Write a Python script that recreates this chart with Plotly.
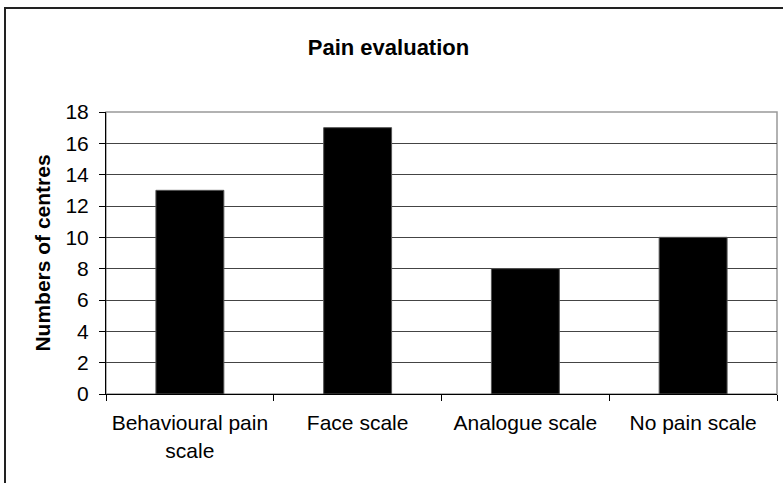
import plotly.graph_objects as go

categories = ["Behavioural pain<br>scale", "Face scale", "Analogue scale", "No pain scale"]
values = [13, 17, 8, 10]
y_ticks = [0, 2, 4, 6, 8, 10, 12, 14, 16, 18]

L, R, T, B = 106, 6, 112, 89
W, H = 783, 483
pw, ph = W - L - R, H - T - B

fig = go.Figure(go.Bar(x=categories, y=values, marker=dict(color="black", line=dict(color="#555", width=1)), width=0.405))

def px_x(p):
    return (p - L) / pw

def px_y(p):
    return (H - B - p) / ph

fig.update_layout(
    width=W, height=H,
    margin=dict(l=L, r=R, t=T, b=B, autoexpand=False),
    paper_bgcolor="white", plot_bgcolor="white",
    font=dict(family="Liberation Sans, Arial, sans-serif", color="black", size=21),
    title=dict(text="<b>Pain evaluation</b>", x=388.5 / W, xref="container", xanchor="center",
               y=1 - 47 / H, yanchor="middle", font=dict(size=22)),
    showlegend=False,
    shapes=[
        dict(type="rect", xref="paper", yref="paper", x0=0, x1=1, y0=0, y1=1,
             line=dict(color="#999", width=1.5), layer="below"),
        dict(type="rect", xref="paper", yref="paper", x0=px_x(5), x1=px_x(800), y0=px_y(8), y1=px_y(500),
             line=dict(color="#222", width=2), fillcolor="rgba(0,0,0,0)"),
    ],
)
fig.update_xaxes(showline=True, linecolor="black", linewidth=1, ticks="outside", ticklen=6,
                 tickcolor="black", tickson="boundaries", showgrid=False, tickfont=dict(size=21),
                 automargin=False, ticklabelstandoff=10)
fig.update_yaxes(range=[0, 18], tickvals=y_ticks, showline=True, linecolor="black", linewidth=1,
                 ticks="outside", ticklen=6, tickcolor="black", showgrid=True, gridcolor="#444",
                 gridwidth=1, zeroline=False, tickfont=dict(size=21), automargin=False,
                 ticklabelstandoff=6,
                 title=dict(text="<b>Numbers of centres</b>", font=dict(size=21), standoff=9))

fig.write_html("out.html", config={"displayModeBar": False},
               post_script="document.body.style.margin='0px';")
